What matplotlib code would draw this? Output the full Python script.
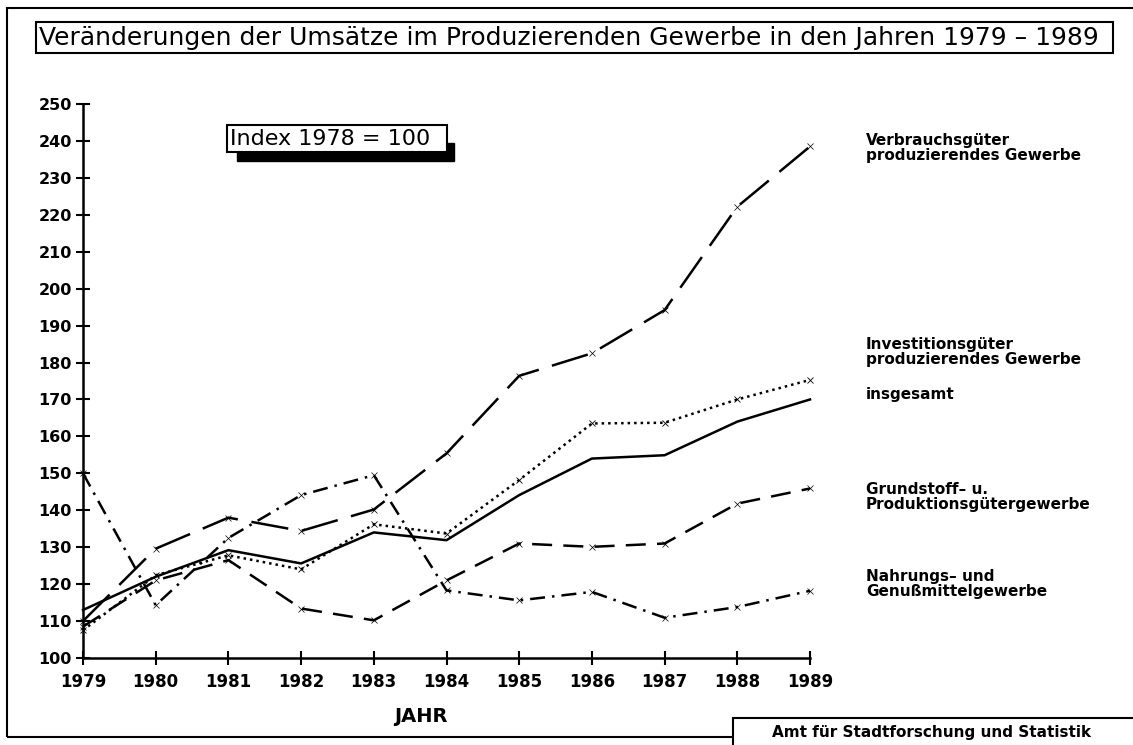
import numpy as np
import matplotlib
matplotlib.use("Agg")
import matplotlib.pyplot as plt
from matplotlib.patches import Rectangle

plt.rcParams['font.family'] = ['DejaVu Sans']

years = [1979, 1980, 1981, 1982, 1983, 1984, 1985, 1986, 1987, 1988, 1989]
verbrauch = [110, 129.6, 138, 134.4, 140.2, 155.4, 176.4, 182.5, 194.2, 222.2, 238.5]
investition = [107.5, 122.4, 127.8, 124, 136.2, 133.7, 148.2, 163.5, 163.7, 170, 175.3]
insgesamt = [113, 122, 129.2, 125.6, 134, 131.9, 144.1, 154, 154.9, 164, 170]
grundstoff = [108.5, 121, 126.5, 113.4, 110.2, 121, 131, 130.1, 131, 141.8, 145.9]
nahrung = [150, 114.3, 132.5, 144.1, 149.5, 118.3, 115.6, 117.9, 110.9, 113.8, 118.2]

labels = ["Verbrauchsgüter\nproduzierendes Gewerbe",
          "Investitionsgüter\nproduzierendes Gewerbe",
          "insgesamt",
          "Grundstoff\u2013 u.\nProduktionsgütergewerbe",
          "Nahrungs\u2013 und\nGenußmittelgewerbe"]
label_y = [148, 352, 395, 497, 584]   # pixel rows of the labels

W, H = 1133, 745
def fx(x):
    return x / W
def fy(y):
    return 1 - y / H

fig = plt.figure(figsize=(W / 100, H / 100), dpi=100)
ax = fig.add_axes([fx(83), fy(658), fx(810) - fx(83), fy(104) - fy(658)])

lw = 1.8
ax.plot(years, verbrauch, color='black', lw=lw, dashes=(15, 5.5),
        marker='x', ms=4, mew=0.5)
ax.plot(years, investition, color='black', lw=lw, dashes=(1, 1.6),
        marker='x', ms=5, mew=0.6)
ax.plot(years, insgesamt, color='black', lw=lw)
ax.plot(years, grundstoff, color='black', lw=lw, dashes=(8, 4.5),
        marker='x', ms=4, mew=0.5)
ax.plot(years, nahrung, color='black', lw=lw, dashes=(6, 2.8, 1, 2.8),
        marker='x', ms=4, mew=0.5)

ax.set_xlim(1979, 1989)
ax.set_ylim(100, 250)
ax.set_xticks(years)
ax.set_yticks(np.arange(100, 251, 10))
ax.spines['top'].set_visible(False)
ax.spines['right'].set_visible(False)
for s in ['left', 'bottom']:
    ax.spines[s].set_linewidth(1.8)
ax.tick_params(direction='inout', length=10, width=1.5, labelsize=11.5, pad=3)
ax.tick_params(axis='x', labelsize=12, pad=6)
for t in ax.get_xticklabels() + ax.get_yticklabels():
    t.set_fontweight('bold')
ax.patch.set_alpha(0)
for ln in ax.lines:
    ln.set_clip_on(False)

fig.text(fx(421), fy(717), "JAHR", ha='center', va='center',
         fontsize=14, fontweight='bold')

for lab, y in zip(labels, label_y):
    fig.text(fx(866), fy(y), lab, ha='left', va='center', fontsize=11,
             fontweight='bold', linespacing=0.95)

# outer frame
fig.add_artist(Rectangle((fx(7), fy(737)), fx(1140) - fx(7), fy(8) - fy(737),
                         transform=fig.transFigure, fill=False, lw=1.5,
                         edgecolor='black'))

# title box
fig.add_artist(Rectangle((fx(36), fy(53)), fx(1113) - fx(36), fy(22) - fy(53),
                         transform=fig.transFigure, fill=False, lw=1.5,
                         edgecolor='black'))
fig.text(fx(39), fy(38), "Veränderungen der Umsätze im Produzierenden Gewerbe "
         "in den Jahren 1979 \u2013 1989", ha='left', va='center', fontsize=18)

# index box with shadow
fig.add_artist(Rectangle((fx(237), fy(161)), fx(454) - fx(237), fy(143) - fy(161),
                         transform=fig.transFigure, facecolor='black',
                         edgecolor='black'))
fig.add_artist(Rectangle((fx(227), fy(152)), fx(447) - fx(227), fy(125) - fy(152),
                         transform=fig.transFigure, facecolor='white',
                         edgecolor='black', lw=1.5))
fig.text(fx(230), fy(139), "Index 1978 = 100", ha='left', va='center',
         fontsize=16)

# source box
fig.add_artist(Rectangle((fx(733), fy(750)), fx(1140) - fx(733), fy(718) - fy(750),
                         transform=fig.transFigure, facecolor='white',
                         edgecolor='black', lw=1.5))
fig.text(fx(932), fy(732), "Amt für Stadtforschung und Statistik", ha='center',
         va='center', fontsize=11, fontweight='bold')

fig.savefig("out.png", dpi=100)
